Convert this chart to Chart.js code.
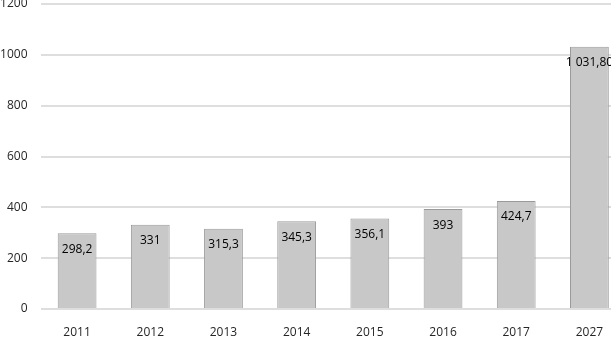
<!DOCTYPE html>
<html>
<head>
<meta charset="utf-8">
<script src="https://cdn.jsdelivr.net/npm/chart.js@4"></script>
<style>
html,body{margin:0;padding:0;background:#fff;overflow:hidden;width:611px;height:337px;}
#wrap{position:relative;width:626px;height:337px;}
</style>
</head>
<body>
<div id="wrap"><canvas id="c" width="626" height="337"></canvas></div>
<script>
const categories = ['2011','2012','2013','2014','2015','2016','2017','2027'];
const values = [298.2, 331, 315.3, 345.3, 356.1, 393, 424.7, 1031.8];
const valueLabels = ['298,2','331','315,3','345,3','356,1','393','424,7','1 031,80'];
const yTicks = [0, 200, 400, 600, 800, 1000, 1200];

const FONT = '"Open Sans", "Liberation Sans", sans-serif';

const labelPlugin = {
  id: 'insideEndLabels',
  afterDatasetsDraw(chart) {
    const ctx = chart.ctx;
    const meta = chart.getDatasetMeta(0);
    const yScale = chart.scales.y;
    ctx.save();
    ctx.font = '12px ' + FONT;
    ctx.fillStyle = '#000';
    ctx.textAlign = 'center';
    ctx.textBaseline = 'middle';
    meta.data.forEach((bar, i) => {
      const y = yScale.getPixelForValue(values[i]) + 16;
      ctx.fillText(valueLabels[i], bar.x, y);
    });
    ctx.restore();
  }
};

new Chart(document.getElementById('c'), {
  type: 'bar',
  data: {
    labels: categories,
    datasets: [{
      data: values,
      backgroundColor: '#c8c8c8',
      borderColor: '#9a9a9a',
      borderWidth: 1,
      categoryPercentage: 1,
      barPercentage: 0.53
    }]
  },
  options: {
    responsive: false,
    animation: false,
    devicePixelRatio: 1,
    layout: { padding: { top: 4, right: 0, bottom: 0, left: 0 } },
    plugins: { legend: { display: false }, tooltip: { enabled: false } },
    scales: {
      x: {
        grid: { display: false, drawTicks: false },
        border: { display: false },
        ticks: { color: '#262626', font: { family: FONT, size: 12 }, padding: 16, maxRotation: 0 },
        afterFit(s) { s.height = 28; }
      },
      y: {
        min: 0, max: 1200,
        afterBuildTicks(s) { s.ticks = yTicks.map(v => ({ value: v })); },
        grid: { color: '#dedede', lineWidth: 2, drawTicks: false },
        border: { display: false },
        ticks: { color: '#262626', font: { family: FONT, size: 12 }, padding: 13,
                 callback: (v) => String(v) },
        afterFit(s) { s.width = 40.5; s.paddingTop = 0; s.paddingBottom = 0; }
      }
    }
  },
  plugins: [labelPlugin]
});
</script>
</body>
</html>
